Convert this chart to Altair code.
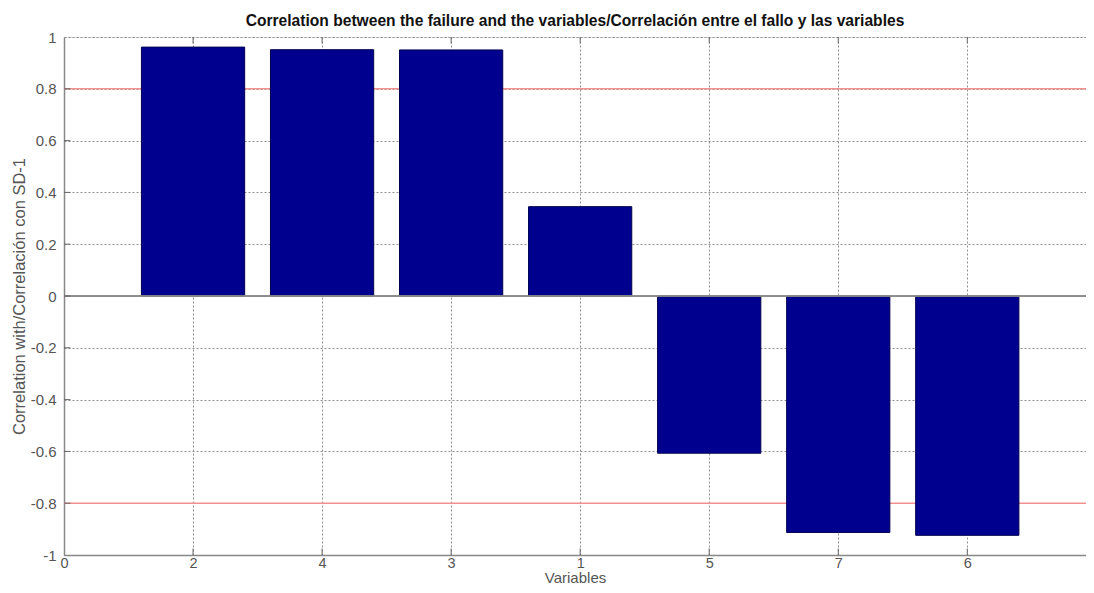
import altair as alt
import pandas as pd

# ---- data ----
variables = ["2", "4", "3", "1", "5", "7", "6"]
correlations = [0.961, 0.951, 0.950, 0.345, -0.607, -0.913, -0.924]
x_ticks = [0, 1, 2, 3, 4, 5, 6, 7]
y_ticks = [-1, -0.8, -0.6, -0.4, -0.2, 0, 0.2, 0.4, 0.6, 0.8, 1]
thresholds = [0.8, -0.8]

BAR_W = 0.8
FONT = "Liberation Sans"

positions = list(range(1, len(variables) + 1))
bars_df = pd.DataFrame({"pos": positions, "variable": variables, "corr": correlations})
bars_df["x0"] = bars_df["pos"] - BAR_W / 2
bars_df["x1"] = bars_df["pos"] + BAR_W / 2

thr_df = pd.DataFrame({"thr": thresholds})
xt_df = pd.DataFrame({"xt": x_ticks[1:]})
yt_df = pd.DataFrame({"yt": y_ticks[1:-1]})

x_labels = ["0"] + variables
label_expr = "[" + ",".join("'%s'" % s for s in x_labels) + "][datum.value]"

x_scale = alt.Scale(domain=[0, 7.92], nice=False, zero=False, padding=0)
y_scale = alt.Scale(domain=[-1, 1], nice=False, padding=0)

x_axis = alt.Axis(values=x_ticks, labelExpr=label_expr, title="Variables",
                  grid=True, gridDash=[2, 2], gridColor="#8f8f8f", gridWidth=1,
                  ticks=False, labelPadding=1, labelFontSize=14.5, labelColor="#555",
                  labelFont=FONT, titleFont=FONT, titleFontSize=15, titleColor="#555",
                  titleFontWeight="normal", titleBaseline="alphabetic", titleY=27,
                  domainColor="#888", domainWidth=1.5, labelFlush=False)
y_axis = alt.Axis(values=y_ticks, labelExpr="'' + datum.value",
                  title="Correlation with/Correlación con SD-1",
                  grid=True, gridDash=[2, 2], gridColor="#8f8f8f", gridWidth=1,
                  ticks=False, labelPadding=8, labelFontSize=15, labelColor="#555",
                  labelFont=FONT, titleFont=FONT, titleFontSize=16.5, titleColor="#555",
                  titleFontWeight="normal", titlePadding=3,
                  domainColor="#888", domainWidth=1.5, labelFlush=False)

base_axes = alt.Chart(bars_df).mark_bar(opacity=0).encode(
    x=alt.X("x0:Q", scale=x_scale, axis=x_axis),
    x2="x1:Q",
    y=alt.Y("corr:Q", scale=y_scale, axis=y_axis),
)

red = alt.Chart(thr_df).mark_rule(color="#f29090", strokeWidth=1.5).encode(
    y=alt.Y("thr:Q", scale=y_scale)
)

bars = alt.Chart(bars_df).mark_bar(color="#00008f", stroke="#000050", strokeWidth=1,
                                   orient="vertical").encode(
    x=alt.X("x0:Q", scale=x_scale),
    x2="x1:Q",
    y=alt.Y("corr:Q", scale=y_scale),
    y2=alt.datum(0),
)

zero = alt.Chart(thr_df).mark_rule(color="#888", strokeWidth=1.5).encode(
    y=alt.datum(0)
)

tick_bottom = alt.Chart(xt_df).mark_rule(color="#666", strokeWidth=1).encode(
    x=alt.X("xt:Q", scale=x_scale), y=alt.datum(-1), y2=alt.datum(-0.975)
)
tick_top = alt.Chart(xt_df).mark_rule(color="#666", strokeWidth=1).encode(
    x=alt.X("xt:Q", scale=x_scale), y=alt.datum(1), y2=alt.datum(0.975)
)
tick_left = alt.Chart(yt_df).mark_rule(color="#666", strokeWidth=1).encode(
    y=alt.Y("yt:Q", scale=y_scale), x=alt.datum(0), x2=alt.datum(0.05)
)

chart = alt.layer(base_axes, red, bars, zero, tick_bottom, tick_top, tick_left).properties(
    width=1022,
    height=518,
    padding={"left": 56, "top": 29, "right": 0, "bottom": 30},
    autosize=alt.AutoSizeParams(type="none"),
    title=alt.TitleParams(
        "Correlation between the failure and the  variables/Correlación entre el fallo y las variables",
        font=FONT, fontSize=15.6, fontWeight="bold", color="#111", anchor="middle", offset=0,
    ),
).configure_view(stroke=None).configure(background="white")

chart.save("out.html", embed_options={"renderer": "svg", "actions": False})
